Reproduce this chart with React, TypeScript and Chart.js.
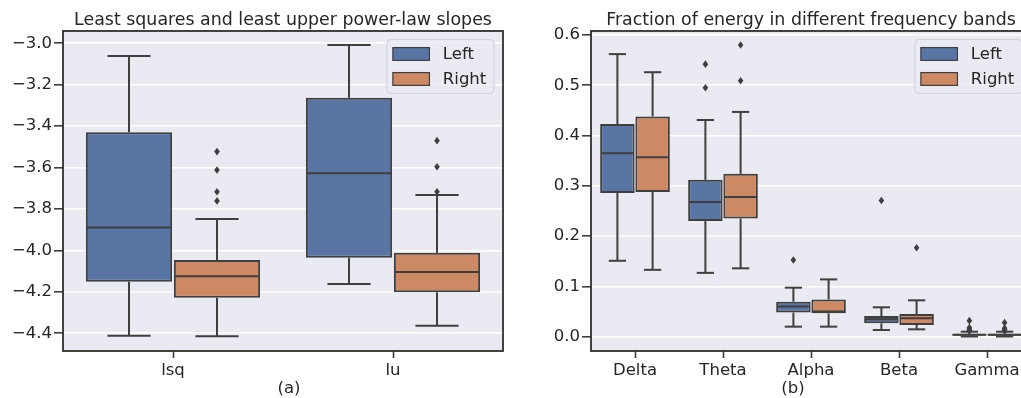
import React, { useEffect, useRef } from 'react';
import { Chart, registerables } from 'chart.js';

Chart.register(...registerables);

// ---------- Panel (a): power-law slopes ----------
const slopeCategories = ['lsq', 'lu'];
const slopeTicks = [-4.4, -4.2, -4.0, -3.8, -3.6, -3.4, -3.2, -3.0];
const slopeLeftQ1 = [-4.151, -4.035];
const slopeLeftQ3 = [-3.43, -3.263];
const slopeLeftMedian = [-3.89, -3.628];
const slopeLeftLow = [-4.412, -4.162];
const slopeLeftHigh = [-3.061, -3.008];
const slopeLeftOutliers = [[], []];
const slopeRightQ1 = [-4.228, -4.202];
const slopeRightQ3 = [-4.046, -4.011];
const slopeRightMedian = [-4.125, -4.104];
const slopeRightLow = [-4.415, -4.364];
const slopeRightHigh = [-3.848, -3.733];
const slopeRightOutliers = [[-3.523, -3.612, -3.717, -3.761], [-3.47, -3.596, -3.717]];

// ---------- Panel (b): energy fraction per band ----------
const bandCategories = ['Delta', 'Theta', 'Alpha', 'Beta', 'Gamma'];
const bandTicks = [0.0, 0.1, 0.2, 0.3, 0.4, 0.5, 0.6];
const bandLeftQ1 = [0.286, 0.23, 0.048, 0.0266, 0.002];
const bandLeftQ3 = [0.423, 0.312, 0.0696, 0.041, 0.006];
const bandLeftMedian = [0.365, 0.268, 0.06, 0.0346, 0.004];
const bandLeftLow = [0.151, 0.127, 0.02, 0.0133, 0.0005];
const bandLeftHigh = [0.562, 0.431, 0.0975, 0.0585, 0.01];
const bandLeftOutliers = [[], [0.542, 0.495], [0.1525], [0.271], [0.032, 0.018, 0.015, 0.013, 0.012]];
const bandRightQ1 = [0.288, 0.235, 0.0465, 0.0233, 0.002];
const bandRightQ3 = [0.438, 0.324, 0.074, 0.045, 0.006];
const bandRightMedian = [0.357, 0.278, 0.05, 0.0366, 0.004];
const bandRightLow = [0.133, 0.136, 0.02, 0.0147, 0.0005];
const bandRightHigh = [0.526, 0.447, 0.114, 0.0724, 0.01];
const bandRightOutliers = [[], [0.58, 0.509], [], [0.177], [0.028, 0.017, 0.014, 0.012]];

const seriesNames = ['Left', 'Right'];
const seriesColors = ['#5875A4', '#CC8963'];

const FONT = 'DejaVu Sans';
const TEXT = '#262626';
const EDGE = '#3f3f3f';

const boxPlugin = {
  id: 'boxExtras',
  beforeDraw(chart: any, _a: any, opts: any) {
    const { ctx, chartArea: a } = chart;
    ctx.save();
    ctx.fillStyle = opts.background;
    ctx.fillRect(a.left, a.top, a.right - a.left, a.bottom - a.top);
    ctx.restore();
  },
  afterDatasetsDraw(chart: any, _a: any, opts: any) {
    const ctx = chart.ctx;
    const ys = chart.scales.y;
    ctx.save();
    ctx.strokeStyle = opts.lineColor;
    ctx.fillStyle = opts.lineColor;
    ctx.lineWidth = opts.lineWidth;
    ctx.lineCap = 'butt';
    const line = (x1: number, y1: number, x2: number, y2: number) => {
      ctx.beginPath();
      ctx.moveTo(x1, y1);
      ctx.lineTo(x2, y2);
      ctx.stroke();
    };
    opts.stats.forEach((s: any, d: number) => {
      const meta = chart.getDatasetMeta(d);
      meta.data.forEach((bar: any, j: number) => {
        const { x, width } = bar.getProps(['x', 'width'], true);
        const half = width / 2;
        const cap = width / 4;
        const q1 = ys.getPixelForValue(s.q1[j]);
        const q3 = ys.getPixelForValue(s.q3[j]);
        const lo = ys.getPixelForValue(s.low[j]);
        const hi = ys.getPixelForValue(s.high[j]);
        const md = ys.getPixelForValue(s.median[j]);
        line(x, q3, x, hi);
        line(x - cap, hi, x + cap, hi);
        line(x, q1, x, lo);
        line(x - cap, lo, x + cap, lo);
        line(x - half + 1, md, x + half - 1, md);
        s.outliers[j].forEach((v: number) => {
          const py = ys.getPixelForValue(v);
          ctx.beginPath();
          ctx.moveTo(x, py - 3.8);
          ctx.lineTo(x + 2.8, py);
          ctx.lineTo(x, py + 3.8);
          ctx.lineTo(x - 2.8, py);
          ctx.closePath();
          ctx.fill();
        });
      });
    });
    const a = chart.chartArea;
    ctx.strokeStyle = opts.spineColor;
    ctx.lineWidth = opts.spineWidth;
    ctx.strokeRect(a.left, a.top, a.right - a.left, a.bottom - a.top);
    ctx.restore();
  },
  afterDraw(chart: any, _a: any, opts: any) {
    const ctx = chart.ctx;
    const a = chart.chartArea;
    ctx.save();
    ctx.font = `${opts.fontSize}px "${FONT}"`;
    const textW = Math.max(...opts.names.map((n: string) => ctx.measureText(n).width));
    const W = 6 + 36.6 + 13.4 + textW + 7.7;
    const H = 54;
    const fx = a.right - 9 - W;
    const fy = a.top + 8.5;
    ctx.beginPath();
    (ctx as any).roundRect(fx, fy, W, H, 4);
    ctx.fillStyle = 'rgba(234,234,242,0.8)';
    ctx.fill();
    ctx.strokeStyle = '#cfcfd6';
    ctx.lineWidth = 1;
    ctx.stroke();
    opts.names.forEach((n: string, i: number) => {
      const cy = fy + 14.5 + i * 25;
      ctx.fillStyle = opts.colors[i];
      ctx.fillRect(fx + 6, cy - 6.4, 36.6, 12.8);
      ctx.strokeStyle = EDGE;
      ctx.lineWidth = 1.2;
      ctx.strokeRect(fx + 6, cy - 6.4, 36.6, 12.8);
      ctx.fillStyle = TEXT;
      ctx.textBaseline = 'middle';
      ctx.textAlign = 'left';
      ctx.fillText(n, fx + 6 + 36.6 + 13.4, cy + 0.5);
    });
    // sub-figure caption
    ctx.fillStyle = TEXT;
    ctx.textAlign = 'center';
    ctx.textBaseline = 'alphabetic';
    ctx.fillText(opts.caption.text, opts.caption.x, opts.caption.y);
    ctx.restore();
  },
};

function makeConfig(p: {
  title: string;
  categories: string[];
  ticks: number[];
  min: number;
  max: number;
  left: any;
  right: any;
  yWidth: number;
  padRight: number;
  caption: any;
}) {
  const fmt = (v: number) => v.toFixed(1).replace('-', '\u2212');
  return {
    type: 'bar',
    data: {
      labels: p.categories,
      datasets: [p.left, p.right].map((s, i) => ({
        label: seriesNames[i],
        data: s.q1.map((q: number, j: number) => [q, s.q3[j]]),
        backgroundColor: seriesColors[i],
        borderColor: EDGE,
        borderWidth: 2,
        borderSkipped: false,
        categoryPercentage: 0.8,
        barPercentage: 0.98,
      })),
    },
    options: {
      responsive: false,
      animation: false,
      layout: { padding: { left: 0, right: p.padRight, top: 0, bottom: 0 } },
      scales: {
        x: {
          type: 'category',
          offset: true,
          afterFit: (s: any) => {
            s.height = 47;
          },
          grid: {
            offset: false,
            drawOnChartArea: false,
            drawTicks: true,
            tickLength: 7,
            tickColor: EDGE,
            tickWidth: 1.6,
          },
          border: { display: false },
          ticks: { color: TEXT, font: { family: FONT, size: 16.5 }, padding: 3 },
        },
        y: {
          type: 'linear',
          min: p.min,
          max: p.max,
          afterFit: (s: any) => {
            s.width = p.yWidth;
          },
          afterBuildTicks: (s: any) => {
            s.ticks = p.ticks.map((v) => ({ value: v }));
          },
          grid: {
            color: '#ffffff',
            lineWidth: 1.6,
            drawTicks: true,
            tickLength: 9,
            tickColor: EDGE,
            tickWidth: 1.6,
          },
          border: { display: false },
          ticks: {
            color: TEXT,
            font: { family: FONT, size: 16.5 },
            padding: 2,
            callback: (v: any) => fmt(Number(v)),
          },
        },
      },
      plugins: {
        legend: { display: false },
        tooltip: { enabled: false },
        title: {
          display: true,
          text: p.title,
          fullSize: false,
          color: TEXT,
          font: { family: FONT, size: 17.4, weight: 'normal', lineHeight: 1.2 },
          padding: { top: 9.6, bottom: 0.5 },
        },
        boxExtras: {
          background: '#EAEAF2',
          lineColor: EDGE,
          lineWidth: 2,
          spineColor: '#2e2e2e',
          spineWidth: 1.8,
          stats: [p.left, p.right],
          names: seriesNames,
          colors: seriesColors,
          fontSize: 16.5,
          caption: p.caption,
        },
      },
    },
    plugins: [boxPlugin],
  };
}

function BoxChart({ config, width, left }: { config: any; width: number; left: number }) {
  const ref = useRef<HTMLCanvasElement | null>(null);
  useEffect(() => {
    if (!ref.current) return;
    const chart = new Chart(ref.current, config);
    return () => chart.destroy();
  }, [config]);
  return (
    <canvas
      ref={ref}
      width={width}
      height={398}
      style={{ position: 'absolute', left, top: 0, width, height: 398 }}
    />
  );
}

const configA = makeConfig({
  title: 'Least squares and least upper power-law slopes',
  categories: slopeCategories,
  ticks: slopeTicks,
  min: -4.4857,
  max: -2.9406,
  left: {
    q1: slopeLeftQ1, q3: slopeLeftQ3, median: slopeLeftMedian,
    low: slopeLeftLow, high: slopeLeftHigh, outliers: slopeLeftOutliers,
  },
  right: {
    q1: slopeRightQ1, q3: slopeRightQ3, median: slopeRightMedian,
    low: slopeRightLow, high: slopeRightHigh, outliers: slopeRightOutliers,
  },
  yWidth: 63,
  padRight: 7,
  caption: { text: '(a)', x: 289, y: 393 },
});

const configB = makeConfig({
  title: 'Fraction of energy in different frequency bands',
  categories: bandCategories,
  ticks: bandTicks,
  min: -0.0284,
  max: 0.608,
  left: {
    q1: bandLeftQ1, q3: bandLeftQ3, median: bandLeftMedian,
    low: bandLeftLow, high: bandLeftHigh, outliers: bandLeftOutliers,
  },
  right: {
    q1: bandRightQ1, q3: bandRightQ3, median: bandRightMedian,
    low: bandRightLow, high: bandRightHigh, outliers: bandRightOutliers,
  },
  yWidth: 81,
  padRight: 19,
  caption: { text: '(b)', x: 283, y: 393 },
});

export default function App() {
  useEffect(() => {
    document.documentElement.style.overflow = 'hidden';
    document.body.style.overflow = 'hidden';
    document.body.style.margin = '0';
  }, []);
  return (
    <div
      style={{
        position: 'fixed',
        left: 0,
        top: 0,
        width: 1050,
        height: 398,
        overflow: 'hidden',
        background: '#ffffff',
      }}
    >
      <BoxChart config={configA} width={510} left={0} />
      <BoxChart config={configB} width={540} left={510} />
    </div>
  );
}
